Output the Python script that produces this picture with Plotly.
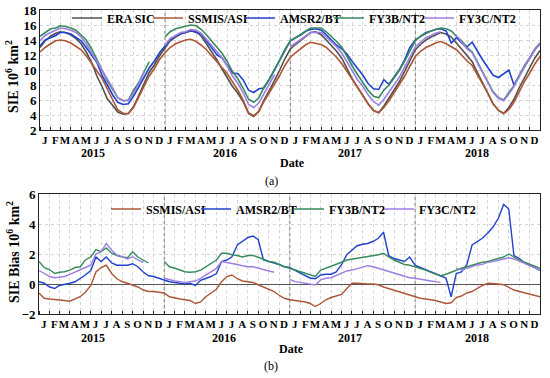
import plotly.graph_objects as go

# ---------------- data (semi-monthly readings: 1st and 16th of each month) ----------------
dates = [f"{y}-{m:02d}-{d:02d}" for y in range(2015, 2019) for m in range(1, 13) for d in (1, 16)] + ["2018-12-31"]

era_sic = [13.0, 13.9, 14.5, 14.9, 15.1, 15.0, 14.7, 14.2, 13.5, 12.4, 11.0, 9.2, 7.8, 6.2, 5.3, 4.4, 4.1, 4.2, 5.1, 6.5, 8.2, 9.7, 10.7, 11.9,
           12.9, 13.9, 14.4, 14.8, 15.0, 15.2, 15.1, 14.5, 13.5, 12.5, 11.3, 10.1, 9.0, 7.8, 6.9, 5.8, 4.2, 3.8, 4.5, 6.0, 7.3, 8.6, 10.0, 11.5,
           12.8, 13.4, 14.0, 14.6, 15.0, 15.1, 14.7, 14.0, 13.3, 12.5, 11.5, 10.1, 8.8, 7.7, 6.6, 5.5, 4.6, 4.3, 5.2, 6.2, 7.4, 8.5, 9.9, 11.2,
           12.7, 13.4, 14.0, 14.4, 14.7, 15.0, 14.8, 14.4, 13.6, 12.8, 11.8, 11.1, 9.7, 8.3, 6.9, 5.5, 4.6, 4.2, 5.0, 6.1, 7.7, 9.1, 10.3, 11.6, 12.6]

ssmis_asi = [12.4, 13.0, 13.5, 13.9, 14.0, 13.9, 13.6, 13.2, 12.7, 11.9, 10.9, 10.0, 8.9, 7.5, 6.0, 4.7, 4.2, 4.2, 5.0, 6.3, 7.8, 9.2, 10.2, 11.4,
             12.3, 13.0, 13.5, 13.8, 14.0, 14.1, 13.8, 13.3, 12.7, 11.9, 11.0, 10.3, 9.5, 8.4, 7.3, 6.0, 4.3, 3.9, 4.5, 5.8, 7.0, 8.1, 9.3, 10.6,
             11.7, 12.3, 12.9, 13.4, 13.7, 13.6, 13.4, 13.0, 12.4, 11.7, 10.8, 9.8, 8.8, 7.8, 6.6, 5.5, 4.6, 4.3, 5.0, 5.9, 7.0, 8.0, 9.2, 10.5,
             11.8, 12.5, 13.0, 13.3, 13.6, 13.8, 13.5, 13.1, 12.7, 12.0, 11.2, 10.6, 9.4, 8.2, 6.9, 5.5, 4.6, 4.2, 4.7, 5.7, 7.2, 8.5, 9.6, 10.8, 11.8]

amsr2_bt = [13.2, 14.0, 14.3, 14.6, 15.0, 15.0, 14.8, 14.4, 13.9, 13.0, 11.9, 11.0, 9.3, 8.0, 6.7, 5.7, 5.4, 5.5, 6.5, 7.7, 9.0, 10.3, 11.2, 12.3,
            13.2, 14.1, 14.5, 14.9, 15.0, 15.3, 15.0, 14.8, 13.9, 13.0, 12.0, 11.6, 10.6, 9.6, 9.5, 8.7, 7.3, 7.0, 7.5, 7.6, 8.8, 10.0, 11.3, 12.7,
            13.9, 14.3, 14.7, 15.2, 15.4, 15.5, 15.3, 14.7, 14.0, 13.3, 12.8, 12.1, 11.1, 10.3, 9.3, 8.2, 7.5, 7.4, 8.7, 8.1, 9.1, 10.1, 11.4, 13.0,
            14.0, 14.5, 15.0, 15.2, 15.4, 15.5, 15.2, 13.6, 14.3, 13.6, 13.1, 13.7, 12.5, 11.4, 10.3, 9.3, 9.0, 9.5, 10.0, 8.0, 9.4, 10.5, 11.6, 12.7, 13.5]

fy3b_nt2 = [14.5, 15.0, 15.5, 15.6, 15.9, 15.8, 15.6, 15.3, 14.7, 14.0, 12.8, 11.5, 10.0, 8.6, 7.4, 6.3, 5.9, 6.0, 7.3, 8.3, 9.8, 11.1, None, None,
            14.4, 15.1, 15.5, 15.7, 15.8, 16.0, 15.9, 15.4, 14.7, 13.9, 12.9, 12.2, 11.1, 9.8, 8.8, 7.6, 6.1, 5.7, 6.3, 7.7, 8.8, 10.1, 11.3, 12.7,
            13.9, 14.3, 14.8, 15.3, 15.6, 15.6, 15.6, 15.1, 14.5, 13.8, 13.0, 11.7, 10.5, 9.4, 8.4, 7.3, 6.5, 6.3, 7.3, 8.0, 9.0, 10.0, 11.2, 12.5,
            13.9, 14.5, 14.9, 15.2, 15.4, 15.6, 15.5, 15.2, 14.5, 13.9, 13.0, 12.4, 11.1, 9.8, 8.4, 7.1, 6.3, 6.0, 7.0, 7.9, 9.3, 10.6, 11.6, 12.8, 13.6]

fy3c_nt2 = [13.9, 14.6, 15.0, 15.3, 15.6, 15.5, 15.3, 15.0, 14.4, 13.5, 12.3, 11.2, 10.0, 8.9, 7.6, 6.3, 5.9, 5.9, 6.9, 8.1, 9.7, None, None, None,
            13.3, 14.2, 14.6, 15.0, 15.1, 15.4, 15.3, 14.9, 14.1, 13.3, 12.3, 11.6, 10.5, 9.2, 8.2, 7.0, 5.4, 5.0, 5.6, 6.9, 8.2, 9.4, None, None,
            13.1, 13.6, 14.1, 14.6, 15.0, 15.0, 15.0, 14.4, 13.7, 13.1, 12.2, 11.0, 9.7, 8.7, 7.8, 6.7, 5.8, 5.3, 6.1, 7.0, 8.1, 9.1, 10.4, 11.6,
            13.1, 13.7, 14.3, 14.6, 14.9, 15.1, None, None, 14.6, 13.7, 12.8, 12.3, 11.0, 9.6, 8.3, 7.0, 6.2, 5.9, 6.8, 7.8, 9.2, 10.5, 11.6, 12.7, 13.5]

bias_ssmis = [-0.6, -0.95, -1.0, -1.05, -1.1, -1.1, -1.15, -1.0, -0.85, -0.55, -0.1, 0.8, 1.1, 1.25, 0.7, 0.35, 0.15, 0.05, -0.05, -0.2, -0.4, -0.5, -0.5, -0.55,
              -0.6, -0.85, -0.95, -1.0, -1.05, -1.1, -1.3, -1.2, -0.85, -0.6, -0.35, 0.15, 0.5, 0.6, 0.35, 0.2, 0.15, 0.1, -0.05, -0.2, -0.35, -0.5, -0.75, -0.95,
              -1.05, -1.1, -1.15, -1.2, -1.3, -1.5, -1.3, -1.05, -0.9, -0.8, -0.7, -0.3, 0.05, 0.05, 0.0, 0.0, 0.0, -0.05, -0.2, -0.3, -0.4, -0.5, -0.65, -0.75,
              -0.85, -0.95, -1.0, -1.05, -1.1, -1.2, -1.3, -1.25, -0.9, -0.8, -0.6, -0.5, -0.3, -0.1, 0.05, 0.05, 0.0, -0.05, -0.25, -0.4, -0.5, -0.6, -0.7, -0.8, -0.85]

bias_amsr2 = [0.15, 0.05, -0.2, -0.3, -0.1, -0.05, 0.05, 0.15, 0.35, 0.6, 0.9, 1.8, 1.5, 1.8, 1.4, 1.25, 1.25, 1.25, 1.35, 1.15, 0.8, 0.55, 0.5, 0.4,
              0.3, 0.15, 0.1, 0.05, 0.0, 0.05, -0.1, 0.25, 0.35, 0.5, 0.7, 1.5, 1.6, 1.8, 2.6, 2.85, 3.1, 3.2, 2.95, 1.6, 1.5, 1.4, 1.3, 1.15,
              1.1, 0.9, 0.7, 0.55, 0.4, 0.35, 0.6, 0.65, 0.65, 0.8, 1.3, 1.95, 2.25, 2.55, 2.65, 2.7, 2.85, 3.05, 3.45, 1.9, 1.7, 1.6, 1.5, 1.8,
              1.25, 1.1, 0.95, 0.8, 0.65, 0.5, 0.4, -0.85, 0.7, 0.8, 1.3, 2.6, 2.8, 3.05, 3.4, 3.8, 4.4, 5.3, 5.0, 1.9, 1.7, 1.4, 1.25, 1.05, 0.9]

bias_fy3b = [1.5, 1.1, 0.95, 0.7, 0.78, 0.82, 0.93, 1.1, 1.15, 1.6, 1.8, 2.3, 2.15, 2.4, 2.05, 1.9, 1.8, 1.75, 2.15, 1.8, 1.6, 1.4, None, None,
             1.5, 1.15, 1.05, 0.93, 0.82, 0.78, 0.82, 0.93, 1.15, 1.4, 1.6, 2.05, 2.05, 1.95, 1.9, 1.8, 1.9, 1.9, 1.75, 1.65, 1.5, 1.45, 1.3, 1.15,
             1.05, 0.93, 0.82, 0.7, 0.6, 0.5, 0.93, 1.05, 1.15, 1.3, 1.45, 1.6, 1.65, 1.7, 1.8, 1.8, 1.9, 1.95, 2.05, 1.8, 1.6, 1.45, 1.3, 1.25,
             1.15, 1.05, 0.93, 0.78, 0.65, 0.55, 0.65, 0.8, 0.93, 1.05, 1.15, 1.25, 1.35, 1.45, 1.5, 1.6, 1.7, 1.8, 2.0, 1.8, 1.6, 1.45, 1.3, 1.15, 1.05]

bias_fy3c = [0.9, 0.7, 0.5, 0.42, 0.48, 0.5, 0.64, 0.78, 0.93, 1.1, 1.27, 2.0, 2.15, 2.7, 2.25, 1.93, 1.82, 1.67, 1.82, 1.6, 1.45, None, None, None,
             0.38, 0.27, 0.2, 0.16, 0.11, 0.16, 0.2, 0.38, 0.6, 0.78, 1.04, 1.5, 1.45, 1.38, 1.3, 1.22, 1.15, 1.15, 1.05, 0.93, 0.87, 0.78, None, None,
             0.3, 0.16, 0.11, 0.04, -0.02, -0.07, 0.27, 0.38, 0.42, 0.55, 0.71, 0.87, 0.93, 1.04, 1.15, 1.22, 1.15, 1.04, 0.93, 0.82, 0.71, 0.64, 0.49, 0.42,
             0.38, 0.31, 0.27, 0.2, 0.16, 0.11, None, None, 1.04, 0.93, 1.04, 1.15, 1.27, 1.31, 1.44, 1.49, 1.6, 1.67, 1.75, 1.67, 1.53, 1.38, 1.27, 1.1, 0.93]

month_letters = ["J", "F", "M", "A", "M", "J", "J", "A", "S", "O", "N", "D"]
year_labels = ["2015", "2016", "2017", "2018"]
year_label_pos = ["2015-06-06", "2016-06-24", "2017-06-24", "2018-07-01"]
year_bounds = ["2016-01-01", "2017-01-01", "2018-01-01"]
month_starts = [f"{y}-{m:02d}-01" for y in range(2015, 2019) for m in range(1, 13)]
month_mids = [f"{y}-{m:02d}-15" for y in range(2015, 2019) for m in range(1, 13)]
month_text = month_letters * 4

names_top = ["ERA SIC", "SSMIS/ASI", "AMSR2/BT", "FY3B/NT2", "FY3C/NT2"]
colors = {"ERA SIC": "#505050", "SSMIS/ASI": "#ad5636", "AMSR2/BT": "#2142cc",
          "FY3B/NT2": "#368a5c", "FY3C/NT2": "#9d7ee2"}
# legend entry widths (px) so the entries sit where the reference has them
legw_top = {"ERA SIC": 36, "SSMIS/ASI": 47, "AMSR2/BT": 44, "FY3B/NT2": 45, "FY3C/NT2": 55}
legw_bot = {"SSMIS/ASI": 45, "AMSR2/BT": 48, "FY3B/NT2": 45, "FY3C/NT2": 55}

# ---------------- figure ----------------
W, H = 550, 378
FONT = "Liberation Serif"


def fnt(size, bold=True):
    return dict(family=FONT, size=size, color="black", weight="bold" if bold else "normal")


fig = go.Figure()

top_series = [era_sic, ssmis_asi, amsr2_bt, fy3b_nt2, fy3c_nt2]
for name, vals in zip(names_top, top_series):
    fig.add_trace(go.Scatter(x=dates, y=vals, name=name, mode="lines",
                             line=dict(color=colors[name], width=1.6),
                             xaxis="x", yaxis="y", legend="legend",
                             legendwidth=legw_top[name]))

bot_series = [bias_ssmis, bias_amsr2, bias_fy3b, bias_fy3c]
for name, vals in zip(names_top[1:], bot_series):
    fig.add_trace(go.Scatter(x=dates, y=vals, name=name, mode="lines",
                             line=dict(color=colors[name], width=1.4),
                             xaxis="x2", yaxis="y2", legend="legend2",
                             legendwidth=legw_bot[name]))

GRID = "#d4d4d4"


def xax(domain, anchor):
    return dict(domain=domain, anchor=anchor, type="date",
                range=["2015-01-01", "2018-12-31"],
                tickmode="array", tickvals=month_mids, ticktext=month_text,
                ticks="", showgrid=False, tickangle=0, tickfont=fnt(11),
                showline=True, mirror=True, linecolor="#222", linewidth=1,
                zeroline=False, automargin=False,
                minor=dict(tickvals=month_starts, showgrid=True, gridcolor=GRID,
                           griddash="dot", gridwidth=1, ticks="inside", ticklen=3,
                           tickcolor="#222"))


def yax(domain, anchor, rng):
    return dict(domain=domain, anchor=anchor, range=rng, dtick=2, tick0=0,
                tickfont=fnt(13), ticks="", showgrid=True, gridcolor=GRID,
                griddash="dot", showline=True, mirror=True, linecolor="#222",
                linewidth=1, automargin=False)


fig.update_layout(
    width=W, height=H, autosize=False,
    margin=dict(l=0, r=0, t=0, b=0, autoexpand=False),
    paper_bgcolor="white", plot_bgcolor="white",
    xaxis=xax([40 / W, 540 / W], "y"),
    yaxis=yax([1 - 130 / H, 1 - 10 / H], "x", [2, 18]),
    xaxis2=xax([39 / W, 540 / W], "y2"),
    yaxis2=dict(yax([1 - 314 / H, 1 - 194 / H], "x2", [-2, 6]),
                zeroline=True, zerolinecolor="#555", zerolinewidth=1),
    showlegend=True,
    legend=dict(orientation="h", x=67 / W, xanchor="left", y=1 - 18 / H, yanchor="middle",
                font=fnt(12), bgcolor="rgba(0,0,0,0)", borderwidth=0, itemwidth=30),
    legend2=dict(orientation="h", x=106 / W, xanchor="left", y=1 - 209 / H, yanchor="middle",
                 font=fnt(12), bgcolor="rgba(0,0,0,0)", borderwidth=0, itemwidth=30),
)

shapes = []
for xr in ("x", "x2"):
    for b in year_bounds:
        shapes.append(dict(type="line", xref=xr, yref=f"{'y' if xr == 'x' else 'y2'} domain",
                           x0=b, x1=b, y0=0, y1=1, layer="below",
                           line=dict(color="#777", width=1, dash="dot")))
fig.update_layout(shapes=shapes)

ann = []
for lab, pos in zip(year_labels, year_label_pos):
    ann.append(dict(x=pos, xref="x", y=1 - 153 / H, yref="paper", text=lab,
                    showarrow=False, font=fnt(12), xanchor="center", yanchor="middle"))
    ann.append(dict(x=pos, xref="x2", y=1 - 338 / H, yref="paper", text=lab,
                    showarrow=False, font=fnt(12), xanchor="center", yanchor="middle"))
ann += [
    dict(x=292 / W, y=1 - 163 / H, xref="paper", yref="paper", text="Date", showarrow=False,
         font=fnt(12), xanchor="center", yanchor="middle"),
    dict(x=291 / W, y=1 - 349 / H, xref="paper", yref="paper", text="Date", showarrow=False,
         font=fnt(12), xanchor="center", yanchor="middle"),
    dict(x=271 / W, y=1 - 181 / H, xref="paper", yref="paper", text="(a)", showarrow=False,
         font=fnt(12, False), xanchor="center", yanchor="middle"),
    dict(x=271 / W, y=1 - 366 / H, xref="paper", yref="paper", text="(b)", showarrow=False,
         font=fnt(12, False), xanchor="center", yanchor="middle"),
    dict(x=12 / W, y=1 - 77 / H, xref="paper", yref="paper",
         text="SIE 10<sup>6</sup> km<sup>2</sup>", textangle=-90, showarrow=False,
         font=fnt(14), xanchor="center", yanchor="middle"),
    dict(x=13 / W, y=1 - 252 / H, xref="paper", yref="paper",
         text="SIE Bias 10<sup>6</sup> km<sup>2</sup>", textangle=-90, showarrow=False,
         font=fnt(14), xanchor="center", yanchor="middle"),
]
fig.update_layout(annotations=ann)

# remove the browser's default 8px page margin so the 550x378 figure fills the window
fig.write_html("out.html", config={"displayModeBar": False},
               post_script="document.body.style.margin='0';document.body.style.overflow='hidden';")
